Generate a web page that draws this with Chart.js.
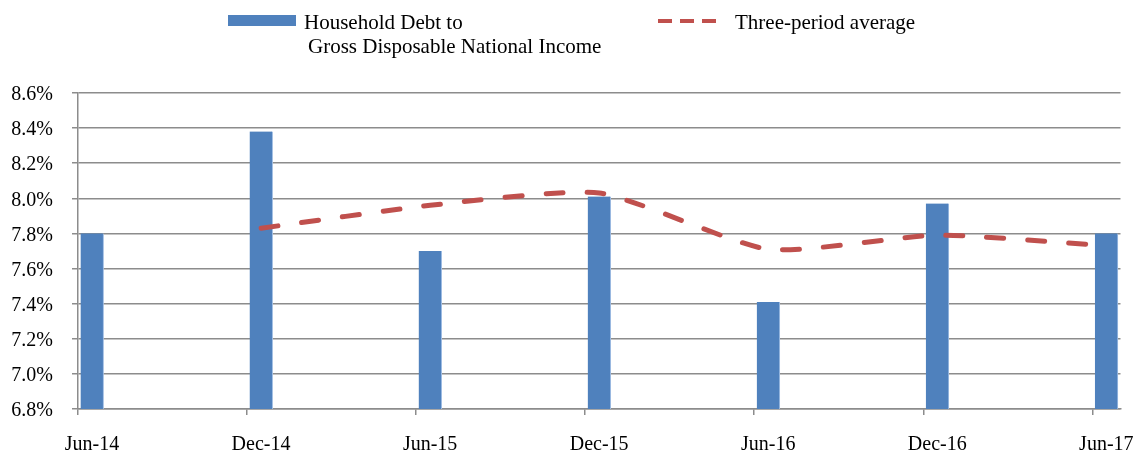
<!DOCTYPE html>
<html>
<head>
<meta charset="utf-8">
<script src="https://cdn.jsdelivr.net/npm/chart.js@4"></script>
<style>
  body { margin: 0; background: #fff; }
  #debtChart { display: block; }
</style>
</head>
<body>
<canvas id="debtChart" width="1138" height="453"></canvas>
<script>
// half-yearly observations, Jun-14 .. Jun-17
var periods = ['Jun-14', 'Dec-14', 'Jun-15', 'Dec-15', 'Jun-16', 'Dec-16', 'Jun-17'];
var debtToIncome = [7.80, 8.38, 7.70, 8.01, 7.41, 7.97, 7.80];
var threePeriodAvg = [null, 7.83, 7.96, 8.03, 7.71, 7.79, 7.73];
var yTicks = [6.8, 7.0, 7.2, 7.4, 7.6, 7.8, 8.0, 8.2, 8.4, 8.6];

var barLabel = ['Household Debt to', 'Gross Disposable National Income'];
var lineLabel = 'Three-period average';

var BLUE = '#4F81BD';
var RED = '#C0504D';
var GRID = '#8c8c8c';
var FONT = 'Liberation Serif, Times New Roman, serif';

// x axis runs in months from Jun-14; each bar sits inside its month
function monthOf(i) { return i * 6 + 0.5; }

var barPoints = debtToIncome.map(function (v, i) { return { x: monthOf(i), y: v }; });
var linePoints = [];
threePeriodAvg.forEach(function (v, i) {
    if (v !== null) linePoints.push({ x: monthOf(i), y: v });
});

// legend drawn at the top, two-line label for the bars
var topLegend = {
    id: 'topLegend',
    afterDraw: function (chart) {
        var ctx = chart.ctx;
        ctx.save();
        ctx.fillStyle = BLUE;
        ctx.fillRect(228, 15, 68, 11);

        ctx.fillStyle = '#000';
        ctx.font = '21px ' + FONT;
        ctx.textBaseline = 'alphabetic';
        ctx.textAlign = 'left';
        ctx.fillText(barLabel[0], 304, 29);
        ctx.fillText(barLabel[1], 308, 53);
        ctx.fillText(lineLabel, 735, 29);

        ctx.strokeStyle = RED;
        ctx.lineWidth = 4;
        ctx.setLineDash([14, 8]);
        ctx.beginPath();
        ctx.moveTo(658, 21);
        ctx.lineTo(716, 21);
        ctx.stroke();
        ctx.restore();
    }
};

var ctx = document.getElementById('debtChart').getContext('2d');
var myChart = new Chart(ctx, {
    type: 'bar',
    data: {
        datasets: [
            {
                type: 'line',
                label: lineLabel,
                data: linePoints,
                borderColor: RED,
                borderWidth: 5,
                borderDash: [17, 24],
                borderCapStyle: 'round',
                pointRadius: 0,
                tension: 0.2,
                fill: false,
                order: 0
            },
            {
                type: 'bar',
                label: barLabel.join(' '),
                data: barPoints,
                backgroundColor: BLUE,
                borderColor: '#9fbde3',
                borderWidth: { right: 1 },
                barThickness: 23,
                grouped: false,
                order: 1
            }
        ]
    },
    options: {
        responsive: false,
        animation: false,
        layout: {
            padding: { top: 93, right: 17, left: 0, bottom: 0 }
        },
        plugins: {
            legend: { display: false },
            tooltip: { enabled: false }
        },
        scales: {
            x: {
                type: 'linear',
                min: 0,
                max: 37,
                offset: false,
                afterBuildTicks: function (scale) {
                    scale.ticks = periods.map(function (p, i) { return { value: i * 6 }; });
                },
                afterFit: function (scale) { scale.height = 44; },
                ticks: {
                    autoSkip: false,
                    maxRotation: 0,
                    labelOffset: 14,
                    padding: 18,
                    color: '#000',
                    font: { family: FONT, size: 20 },
                    callback: function (v, i) { return periods[i]; }
                },
                grid: {
                    offset: false,
                    drawOnChartArea: false,
                    tickLength: 6,
                    color: GRID,
                    lineWidth: 1.5
                },
                border: { color: GRID, width: 1.5 }
            },
            y: {
                min: 6.8,
                max: 8.6,
                afterBuildTicks: function (scale) {
                    scale.ticks = yTicks.map(function (v) { return { value: v }; });
                },
                afterFit: function (scale) { scale.width = 78; },
                ticks: {
                    padding: 19,
                    labelOffset: 2,
                    color: '#000',
                    font: { family: FONT, size: 20 },
                    callback: function (v) { return v.toFixed(1) + '%'; }
                },
                grid: {
                    color: GRID,
                    lineWidth: 1.5,
                    tickLength: 6
                },
                border: { color: GRID, width: 1.5 }
            }
        }
    },
    plugins: [topLegend]
});
</script>
</body>
</html>
